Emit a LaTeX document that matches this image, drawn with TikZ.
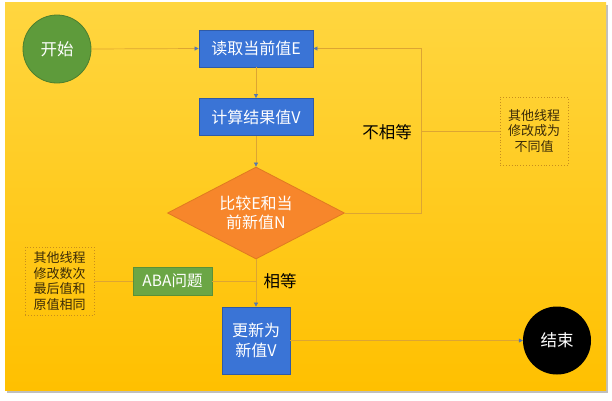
\documentclass[tikz,border=0pt]{standalone}
\usepackage{fontspec}
\newfontfamily\cjk{Noto Sans CJK SC}
\usetikzlibrary{shapes.geometric,arrows.meta,shadows}
\definecolor{panelTop}{HTML}{FFD640}
\definecolor{panelBot}{HTML}{FFC000}
\definecolor{boxBlue}{HTML}{3A74D6}
\definecolor{boxBlueDark}{HTML}{2F5AA6}
\definecolor{startGreen}{HTML}{5E9B3B}
\definecolor{startGreenDark}{HTML}{4C7F2E}
\definecolor{abaGreen}{HTML}{6BA645}
\definecolor{abaGreenDark}{HTML}{5A9038}
\definecolor{diaOrange}{HTML}{F7862B}
\definecolor{diaOrangeDark}{HTML}{E07A20}
\definecolor{lineCol}{HTML}{DDA532}
\definecolor{tipCol}{HTML}{5578B0}
\definecolor{noteBorder}{HTML}{C88F1C}
\definecolor{noteText}{HTML}{3A2A08}
\tikzset{
  bluebox/.style={draw=boxBlueDark, line width=0.8pt, fill=boxBlue, text=white, font=\cjk\fontsize{16}{20}\selectfont, inner sep=0pt, align=center},
  notebox/.style={draw=noteBorder, dotted, line width=0.9pt, text=noteText, font=\cjk\fontsize{13}{15.8}\selectfont, inner sep=0pt, align=center},
  conn/.style={draw=lineCol, line width=0.7pt},
  arr/.style={conn, -{Triangle[length=4pt,width=4pt,color=tipCol]}},
  plainlabel/.style={text=black, font=\cjk\fontsize{16.5}{20}\selectfont, inner sep=0pt}
}
\begin{document}
\begin{tikzpicture}[x=1pt,y=-1pt]
\useasboundingbox (0,0) rectangle (612,400);
\fill[white] (0,0) rectangle (612,400);
% panel shadow and panel
\fill[black!25] (7,5) rectangle (608,393);
\shade[top color=panelTop, bottom color=panelBot] (5,2) rectangle (606,390);

% nodes
\node[circle, draw=startGreenDark, line width=0.8pt, fill=startGreen, minimum size=68pt, inner sep=0pt, text=white, font=\cjk\fontsize{16.5}{20}\selectfont] (start) at (57,49) {开始};
\node[bluebox, minimum width=114pt, minimum height=37pt] (b1) at (256,48.5) {读取当前值E};
\node[bluebox, minimum width=114pt, minimum height=37pt] (b2) at (256,117) {计算结果值V};
\node[diamond, draw=diaOrangeDark, line width=0.8pt, fill=diaOrange, minimum width=177pt, minimum height=92pt, inner sep=0pt] (dia) at (256,213) {};
\node[text=white, font=\cjk\fontsize{16}{18.5}\selectfont, align=center, inner sep=0pt] (diatext) at (dia.center) {比较E和当\\前新值N};
\node[bluebox, minimum width=68pt, minimum height=67pt, font=\cjk\fontsize{16}{20.5}\selectfont] (b3) at (256,340.5) {更新为\\新值V};
\node[circle, fill=black, minimum size=68pt, inner sep=0pt, text=white, font=\cjk\fontsize{16.5}{20}\selectfont] (end) at (557,340.5) {结束};
\node[draw=abaGreenDark, line width=0.8pt, fill=abaGreen, minimum width=79pt, minimum height=28pt, inner sep=0pt, text=white, font=\cjk\fontsize{15.5}{18}\selectfont] (aba) at (172.5,281) {ABA问题};
\node[notebox, minimum width=68pt, minimum height=68pt] (note1) at (534,131) {其他线程\\修改成为\\不同值};
\node[notebox, minimum width=69pt, minimum height=68pt] (note2) at (59.5,281) {其他线程\\修改数次\\最后值和\\原值相同};
\node[plainlabel] (neq) at (387,132) {不相等};
\node[plainlabel] (eq) at (280,281) {相等};
\coordinate (loopc) at (421,213);

% connectors
\draw[arr] (start.east) -- (b1.west);
\draw[arr] (b1.south) -- (b2.north);
\draw[arr] (b2.south) -- (dia.north);
\draw[arr] (dia.east) -- (loopc) |- (b1.east);
\draw[conn] (note1.west) -- (note1.west -| loopc);
\draw[arr] (dia.south) -- (b3.north);
\draw[conn] (note2.east) -- (aba.west);
\draw[conn] (aba.east) -- (aba.east -| b3.north);
\draw[arr] (b3.east) -- (end.west);
\end{tikzpicture}
\end{document}
